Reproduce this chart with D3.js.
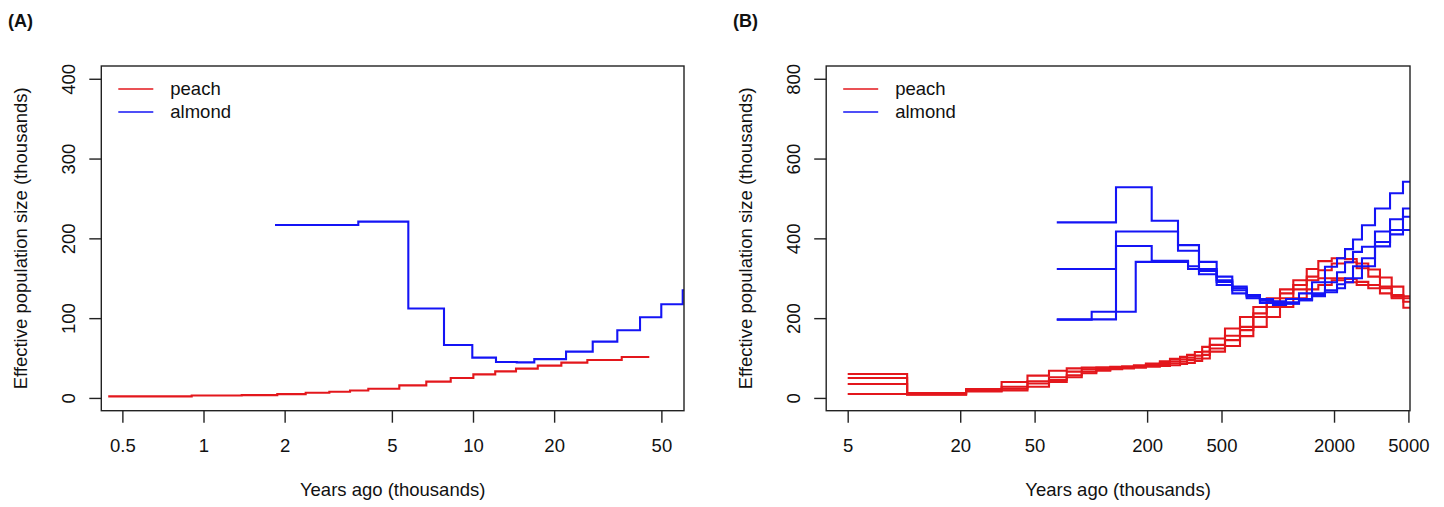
<!DOCTYPE html>
<html lang="en">
<head>
<meta charset="utf-8" />
<title>Peach / almond effective population size</title>
<script src="https://d3js.org/d3.v7.min.js"></script>
<style>
  body { margin: 0; background: #ffffff; }
  text { font-family: "Liberation Sans", Arial, Helvetica, sans-serif; }
</style>
</head>
<body>
<svg id="chart" width="1444" height="507" xmlns="http://www.w3.org/2000/svg"></svg>
<script>
// ---- panel A data (thousands of years ago / thousands) ----
const peachA_x = [0.443, 0.904, 1.386, 1.878, 2.394, 2.930, 3.497, 4.088, 5.327, 6.709, 8.266, 10.03, 12.09, 14.44, 17.39, 21.27, 26.56, 35.63, 45.10];
const peachA_y = [2, 3, 3.5, 4.8, 6.5, 7.8, 9.4, 11.6, 15.7, 20.4, 24.9, 29.5, 33.3, 36.7, 40.5, 44.2, 47.5, 51.3];
const almondA_x = [1.842, 3.753, 5.754, 7.805, 9.94, 12.17, 14.53, 16.88, 22.14, 27.81, 34.31, 41.66, 49.96, 60.0, 70];
const almondA_y = [216.7, 220.9, 112.1, 66.3, 50.5, 45, 44.6, 48.7, 58, 70.6, 84.8, 101.1, 117.5, 135];

// ---- panel B data ----
const peachB_x = [5, 10.4, 21.5, 33.3, 45.8, 59.7, 74.3, 89.4, 107, 127, 147, 170, 197, 234, 265, 300, 327, 360, 394, 433, 522, 628, 740, 873, 1028, 1211, 1429, 1648, 1944, 2290, 2644, 3050, 3522, 4070, 4698, 5500];
const peachB_y1 = [60, 12, 22, 40, 56, 68, 74, 76, 77, 78, 79, 82, 86, 92, 98, 103, 108, 115, 128, 149, 174, 203, 228, 250, 272, 295, 323, 343, 350, 348, 337, 322, 302, 279, 255];
const peachB_y2 = [50, 11, 20, 28, 42, 52, 66, 72, 75, 76, 77, 80, 83, 88, 92, 97, 101, 106, 116, 133, 156, 178, 212, 241, 262, 283, 304, 320, 337, 340, 325, 304, 279, 258, 226];
const peachB_y3 = [35, 9, 18, 23, 36, 45, 57, 66, 71, 74, 76, 78, 80, 83, 87, 91, 95, 99, 108, 124, 145, 170, 203, 228, 250, 272, 295, 300, 300, 298, 291, 283, 275, 254, 241];
const peachB_y4 = [10, 8, 16, 19, 28, 40, 52, 62, 68, 72, 74, 76, 78, 80, 82, 85, 88, 93, 99, 116, 130, 155, 178, 203, 228, 250, 272, 283, 295, 290, 283, 275, 262, 250, 250];

const almondB_x = [65.7, 101, 136.3, 173.8, 211.6, 254.5, 292.6, 331, 378.9, 471, 571, 682, 803, 943, 1107, 1299, 1525, 1789, 2075, 2290, 2527, 2822, 3313, 3987, 4677, 5500];
const almondB_y1 = [440, 440, 528, 528, 444, 444, 383, 383, 341, 304, 279, 258, 245, 238, 248, 262, 290, 329, 350, 373, 397, 433, 475, 513, 542];
const almondB_y2 = [323, 323, 417, 417, 417, 417, 369, 369, 323, 291, 270, 254, 240, 234, 236, 245, 262, 290, 315, 340, 366, 379, 417, 448, 475];
const almondB_y3 = [197, 197, 381, 381, 344, 344, 344, 323, 318, 295, 275, 256, 248, 242, 240, 248, 258, 270, 285, 300, 330, 350, 391, 421, 421];
const almondB_y4 = [196, 216, 216, 341, 341, 341, 341, 330, 310, 283, 262, 250, 238, 233, 237, 245, 255, 265, 275, 290, 300, 330, 380, 410, 454];

// ---- ticks ----
const xTicksA = [0.5, 1, 2, 5, 10, 20, 50];
const yTicksA = [0, 100, 200, 300, 400];
const xTicksB = [5, 20, 50, 200, 500, 2000, 5000];
const yTicksB = [0, 200, 400, 600, 800];

const RED = "#e3171c";
const BLUE = "#1414f5";
const FONT = 18.5;

const svg = d3.select("#chart");

// stepwise points: last x closes the final step
function steps(xs, ys){
  return xs.map((v, i) => [v, ys[Math.min(i, ys.length - 1)]]);
}

function drawPanel(cfg){
  const x = d3.scaleLog().domain(cfg.xDomain).range([cfg.left, cfg.right]);
  const y = d3.scaleLinear().domain(cfg.yDomain).range([cfg.bottom, cfg.top]);

  const clipId = "clip" + cfg.id;
  svg.append("clipPath").attr("id", clipId)
    .append("rect")
      .attr("x", cfg.left).attr("y", cfg.top)
      .attr("width", cfg.right - cfg.left).attr("height", cfg.bottom - cfg.top);

  const line = d3.line()
    .curve(d3.curveStepAfter)
    .x(d => x(d[0]))
    .y(d => y(d[1]));

  const g = svg.append("g").attr("clip-path", "url(#" + clipId + ")");
  g.selectAll("path.series")
    .data(cfg.series)
    .enter()
    .append("path")
      .attr("class", "series")
      .attr("d", d => line(steps(d.x, d.y)))
      .attr("fill", "none")
      .attr("stroke", d => d.color)
      .attr("stroke-width", 2.1)
      .attr("stroke-linejoin", "miter");

  // box
  svg.append("rect")
    .attr("x", cfg.left).attr("y", cfg.top)
    .attr("width", cfg.right - cfg.left).attr("height", cfg.bottom - cfg.top)
    .attr("fill", "none").attr("stroke", "#222").attr("stroke-width", 1.4);

  // x axis
  const xAxis = svg.append("g")
    .attr("transform", "translate(0," + cfg.bottom + ")")
    .call(d3.axisBottom(x).tickValues(cfg.xTicks).tickFormat(d => String(d)).tickSize(12).tickPadding(16));
  xAxis.select(".domain").remove();
  xAxis.selectAll(".tick line").attr("stroke", "#222").attr("stroke-width", 1.4);
  xAxis.selectAll(".tick text")
    .attr("fill", "#111")
    .style("font-size", FONT + "px")
    .style("font-family", '"Liberation Sans", Arial, Helvetica, sans-serif');

  // y axis, labels parallel to the axis
  const yAxis = svg.append("g")
    .attr("transform", "translate(" + cfg.left + ",0)")
    .call(d3.axisLeft(y).tickValues(cfg.yTicks).tickSize(12));
  yAxis.select(".domain").remove();
  yAxis.selectAll(".tick line").attr("stroke", "#222").attr("stroke-width", 1.4);
  yAxis.selectAll(".tick text")
    .attr("x", 0).attr("y", 0).attr("dy", 0)
    .attr("text-anchor", "middle")
    .attr("transform", "translate(-26,0) rotate(-90)")
    .attr("fill", "#111")
    .style("font-size", FONT + "px")
    .style("font-family", '"Liberation Sans", Arial, Helvetica, sans-serif');

  // axis titles
  svg.append("text")
    .attr("x", (cfg.left + cfg.right) / 2).attr("y", 496)
    .attr("text-anchor", "middle")
    .style("font-size", FONT + "px")
    .attr("fill", "#111")
    .text("Years ago (thousands)");
  svg.append("text")
    .attr("transform", "translate(" + (cfg.left - 74) + "," + ((cfg.top + cfg.bottom) / 2) + ") rotate(-90)")
    .attr("text-anchor", "middle")
    .style("font-size", FONT + "px")
    .attr("fill", "#111")
    .text("Effective population size (thousands)");

  // panel tag
  svg.append("text")
    .attr("x", cfg.tagX).attr("y", 27)
    .style("font-size", "18px")
    .style("font-weight", "bold")
    .attr("fill", "#111")
    .text(cfg.tag);

  // legend
  const legend = [{name: "peach", color: RED}, {name: "almond", color: BLUE}];
  const lg = svg.append("g");
  lg.selectAll("line")
    .data(legend)
    .enter()
    .append("line")
      .attr("x1", cfg.left + 17).attr("x2", cfg.left + 52)
      .attr("y1", (d, i) => 89 + i * 23).attr("y2", (d, i) => 89 + i * 23)
      .attr("stroke", d => d.color)
      .attr("stroke-width", 1.3);
  lg.selectAll("text")
    .data(legend)
    .enter()
    .append("text")
      .attr("x", cfg.left + 69)
      .attr("y", (d, i) => 89 + i * 23)
      .attr("dy", "0.35em")
      .style("font-size", FONT + "px")
      .attr("fill", "#111")
      .text(d => d.name);
}

drawPanel({
  id: "A", tag: "(A)", tagX: 8,
  left: 101.3, right: 684, top: 66, bottom: 410.7,
  xDomain: [0.4176, 60.66], yDomain: [-16, 416],
  xTicks: xTicksA, yTicks: yTicksA,
  series: [
    {x: peachA_x, y: peachA_y, color: RED},
    {x: almondA_x, y: almondA_y, color: BLUE}
  ]
});

drawPanel({
  id: "B", tag: "(B)", tagX: 733,
  left: 826.2, right: 1410, top: 66, bottom: 410.7,
  xDomain: [3.837, 5099], yDomain: [-32, 832],
  xTicks: xTicksB, yTicks: yTicksB,
  series: [
    {x: peachB_x, y: peachB_y1, color: RED},
    {x: peachB_x, y: peachB_y2, color: RED},
    {x: peachB_x, y: peachB_y3, color: RED},
    {x: peachB_x, y: peachB_y4, color: RED},
    {x: almondB_x, y: almondB_y1, color: BLUE},
    {x: almondB_x, y: almondB_y2, color: BLUE},
    {x: almondB_x, y: almondB_y3, color: BLUE},
    {x: almondB_x, y: almondB_y4, color: BLUE}
  ]
});
</script>
</body>
</html>
